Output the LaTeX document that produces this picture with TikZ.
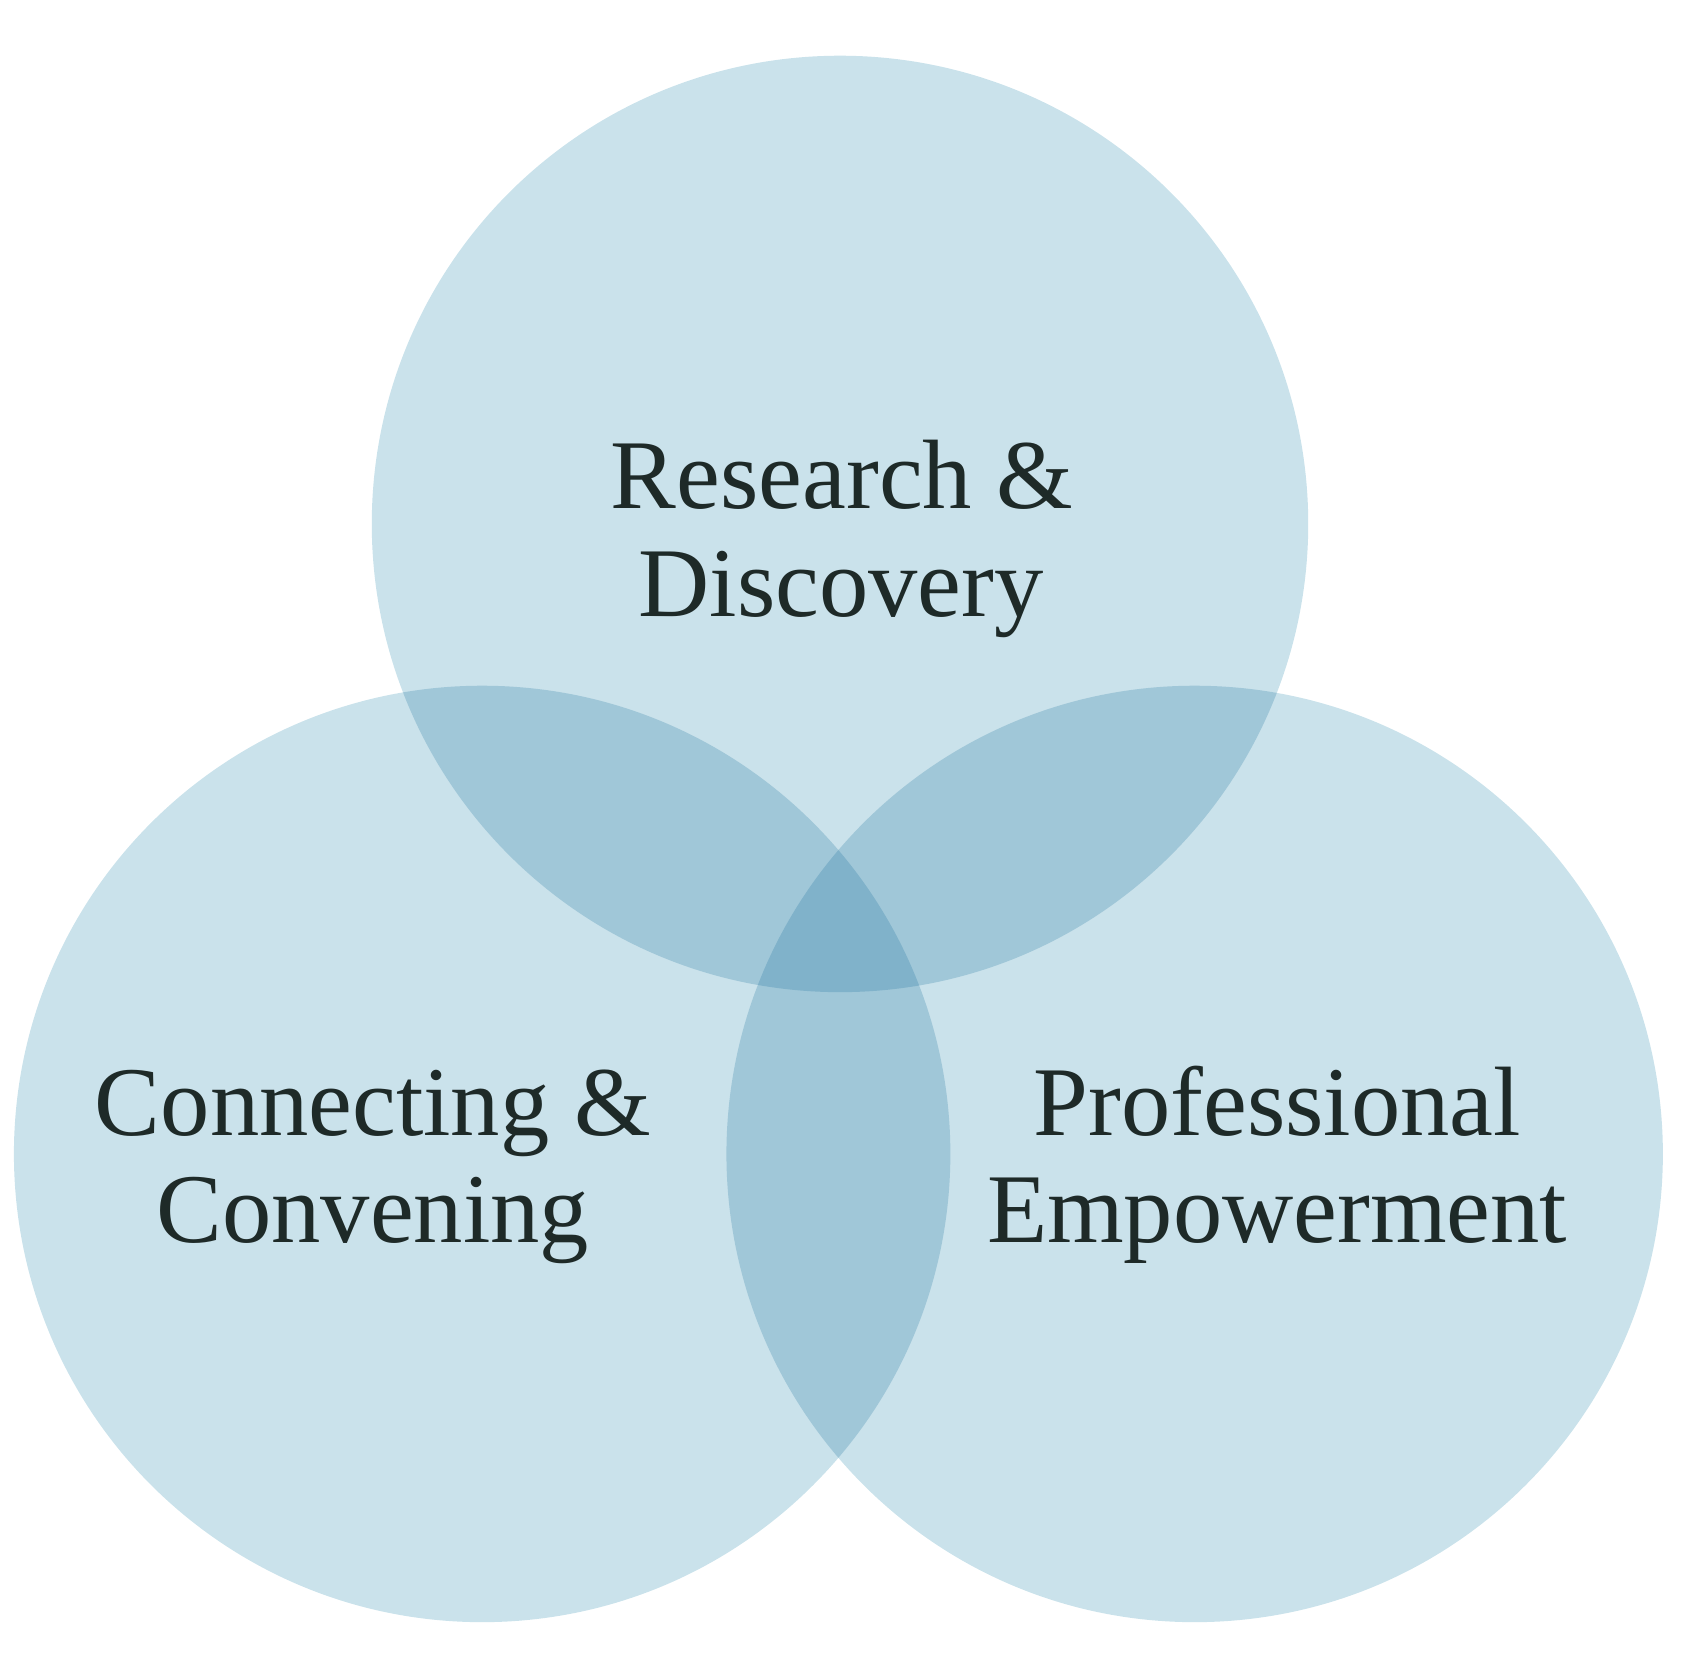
\documentclass[tikz,border=0pt]{standalone}
\usepackage{fontspec}
\setmainfont{Liberation Serif}
\definecolor{c1}{HTML}{CAE2EB}
\definecolor{c2}{HTML}{A0C7D8}
\definecolor{c3}{HTML}{80B2CA}
\definecolor{tx}{HTML}{1E2A28}
\begin{document}
\begin{tikzpicture}[x=1pt,y=-1pt,
  lbl/.style={text=tx,align=center,font=\fontsize{92}{100}\selectfont,inner sep=0pt}]
\useasboundingbox (0,0) rectangle (1568,1568);
\def\R{437}
\coordinate (T) at (784,489);
\coordinate (L) at (450,1077);
\coordinate (Rr) at (1115,1077);
\fill[c1] (T) circle (\R) (L) circle (\R) (Rr) circle (\R);
\begin{scope}\clip (T) circle (\R); \fill[c2] (L) circle (\R) (Rr) circle (\R);\end{scope}
\begin{scope}\clip (L) circle (\R); \fill[c2] (Rr) circle (\R);\end{scope}
\begin{scope}\clip (T) circle (\R); \clip (L) circle (\R); \fill[c3] (Rr) circle (\R);\end{scope}
\node[lbl,anchor=base] (t1) at (786,475) {Research \&};
\node[lbl,anchor=base] (t2) at (785,575) {Discovery};
\node[lbl,anchor=base] (l1) at (348,1060) {Connecting \&};
\node[lbl,anchor=base] (l2) at (348,1160) {Convening};
\node[lbl,anchor=base] (r1) at (1192,1060) {Professional};
\node[lbl,anchor=base] (r2) at (1192,1160) {Empowerment};
\end{tikzpicture}
\end{document}
